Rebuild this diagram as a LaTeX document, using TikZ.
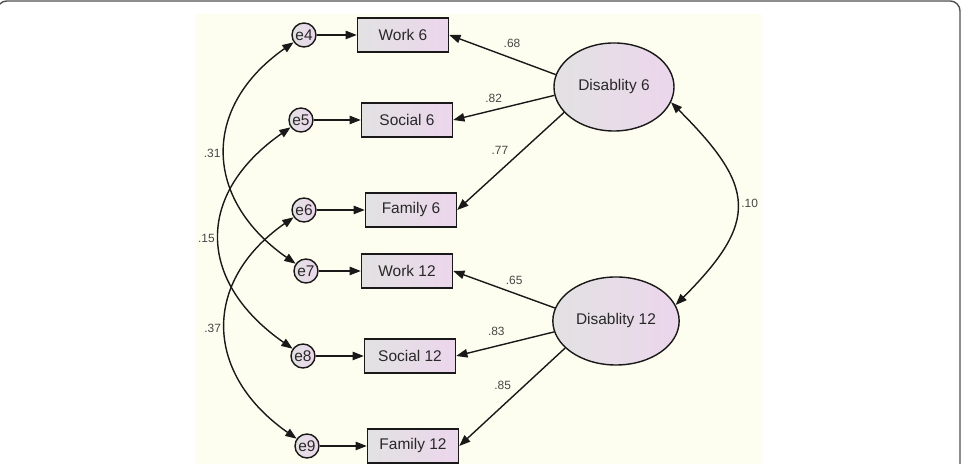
\documentclass[tikz,border=0pt]{standalone}
\usepackage{fontspec}
\setmainfont{Liberation Sans}
\usetikzlibrary{positioning, arrows.meta, shapes.geometric, calc}
\definecolor{cPanel}{RGB}{254,254,240}
\definecolor{cGrey}{RGB}{226,226,226}
\definecolor{cPink}{RGB}{236,214,236}
\definecolor{cLine}{RGB}{25,25,25}
\definecolor{cText}{RGB}{40,40,40}
\definecolor{cLabel}{RGB}{70,70,70}
\definecolor{cFrame}{RGB}{80,80,80}

\begin{document}
\begin{tikzpicture}[x=0.025cm, y=0.025cm, >={Triangle[length=8pt, width=6pt]},
    font=\fontsize{11}{13}\selectfont,
    obs/.style={draw=cLine, line width=1pt, left color=cGrey, right color=cPink, minimum width=2.275cm, minimum height=0.85cm, text=cText},
    err/.style={draw=cLine, circle, line width=1pt, left color=cGrey, right color=cPink, minimum size=0.6cm, inner sep=0pt, text=cText},
    lat/.style={draw=cLine, ellipse, line width=1pt, left color=cGrey, right color=cPink, minimum width=3cm, minimum height=2.2cm, text=cText},
    link/.style={->, draw=cLine, line width=1pt},
    cov/.style={<->, draw=cLine, line width=1pt},
    coef/.style={font=\fontsize{8.5}{10}\selectfont, text=cLabel, inner sep=1pt}]

    % Page frame and background panel
    \useasboundingbox (0,0) rectangle (963,464);
    \begin{scope}
        \clip (0,0) rectangle (963,464);
        \draw [draw=cFrame, line width=1pt, rounded corners=7pt] (-3,-20) rectangle (960,463);
    \end{scope}
    \fill [cPanel] (195,0) rectangle (762,450);

    % Loop to create the error terms and their observed indicators
    \foreach \n/\txt/\ex/\bx/\y in {
        4/Work 6/304/403/429,
        5/Social 6/301/407/344,
        6/Family 6/304/411/254,
        7/Work 12/306/407/193,
        8/Social 12/303/410/108,
        9/Family 12/307/413/18
    } {
        \node [err] (e\n) at (\ex,\y) {e\n};
        \node [obs] (ind\n) at (\bx,\y) {\txt};
        \draw [link] (e\n) -- (ind\n);
    }

    % Latent factors
    \node [lat] (dis6) at (614,377) {Disablity 6};
    \node [lat] (dis12) at (616,143) {Disablity 12};

    % Factor loadings
    \foreach \f/\n/\ang/\t/\lift/\val in {
        6/4/168/0.41/6.3pt/.68,
        6/5/188/0.6/4.1pt/.82,
        6/6/207/0.6/10pt/.77,
        12/7/168/0.4/4.9pt/.65,
        12/8/190/0.59/5.9pt/.83,
        12/9/208/0.59/10pt/.85
    } {
        \draw [link] (dis\f.\ang) -- (ind\n.east) node[coef, pos=\t, above=\lift] {\val};
    }

    % Covariances between error terms
    \draw [cov] (e4) to[out=215, in=145, looseness=1.3] node[coef, left=2pt] {.31} (e7);
    \draw [cov] (e5) to[out=215, in=145, looseness=1.35] node[coef, left=2pt] {.15} (e8);
    \draw [cov] (e6) to[out=215, in=145, looseness=1.3] node[coef, left=2pt] {.37} (e9);

    % Covariance between the two factors
    \draw [cov] (dis6.345) to[out=-45, in=45, looseness=1.5] node[coef, right=2pt] {.10} (dis12.15);
\end{tikzpicture}
\end{document}
